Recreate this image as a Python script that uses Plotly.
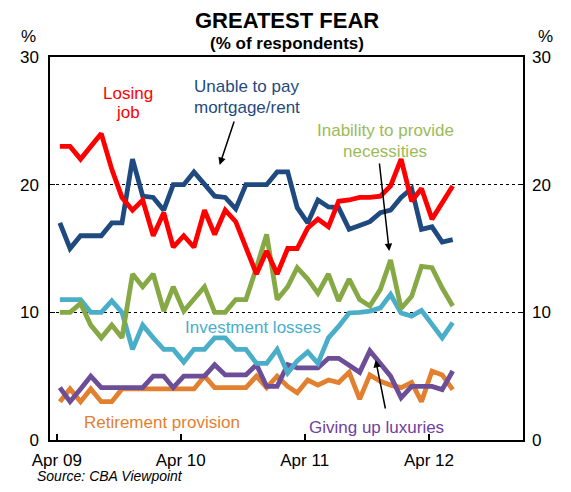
import plotly.graph_objects as go

# ---- data (monthly survey, Apr 2009 - Jun 2012) ----
months = [f"{2009 + (3 + i) // 12}-{(3 + i) % 12 + 1:02d}-10" for i in range(39)]

losing_job = [23.0, 23.0, 22.0, 23.0, 24.0, 21.2, 19.0, 18.0, 18.8, 16.0, 17.8, 15.1, 16.0,
              15.1, 18.0, 16.1, 18.0, 17.1, 15.1, 13.0, 14.8, 13.0, 15.0, 15.0, 16.6, 17.3,
              16.7, 18.7, 18.8, 19.0, 19.0, 19.1, 19.9, 22.0, 18.7, 19.7, 17.3, 18.6, 19.9]

mortgage_rent = [17.0, 15.0, 16.0, 16.0, 16.0, 17.0, 17.0, 22.0, 19.1, 19.0, 18.0, 20.0, 20.0,
                 21.0, 20.0, 19.1, 19.0, 18.1, 20.0, 20.0, 20.0, 21.0, 21.0, 18.2, 17.0, 18.8,
                 18.25, 18.2, 16.5, 16.8, 17.1, 17.8, 18.0, 19.0, 19.7, 16.5, 16.7, 15.5, 15.7]

necessities = [10.0, 10.0, 10.7, 9.0, 8.0, 9.0, 8.0, 13.0, 12.0, 13.0, 10.1, 12.0, 10.1,
               11.0, 12.0, 10.0, 10.0, 11.0, 11.0, 13.5, 16.1, 11.0, 12.0, 13.5, 12.6, 11.5,
               13.0, 10.9, 12.6, 11.0, 10.5, 11.8, 14.1, 10.3, 11.25, 13.6, 13.5, 11.9, 10.5]

investment = [11.0, 11.0, 11.0, 10.0, 10.0, 10.9, 10.0, 7.1, 9.0, 8.0, 7.1, 7.1, 6.1,
              7.1, 7.1, 8.0, 8.0, 7.1, 7.1, 6.0, 6.0, 7.1, 5.25, 6.2, 6.9, 6.0,
              8.0, 8.9, 9.95, 10.0, 10.1, 10.35, 11.4, 9.95, 9.7, 10.15, 9.0, 8.0, 9.2]

luxuries = [4.1, 3.0, 4.0, 5.0, 4.1, 4.1, 4.1, 4.1, 4.1, 5.0, 5.0, 4.1, 5.0,
            5.0, 5.0, 5.9, 5.1, 5.1, 5.1, 5.9, 4.2, 4.2, 5.9, 5.65, 5.65, 5.65,
            6.4, 6.4, 5.85, 5.3, 7.0, 6.0, 5.0, 3.3, 4.2, 4.2, 4.2, 3.95, 5.4]

retirement = [3.0, 4.0, 3.0, 4.0, 3.0, 3.0, 4.0, 4.0, 4.0, 4.0, 4.0, 4.0, 4.0,
              4.0, 5.0, 4.1, 4.1, 4.1, 4.1, 5.0, 4.1, 5.0, 4.2, 3.7, 4.7, 4.3,
              4.7, 4.5, 5.3, 3.2, 5.1, 4.6, 4.3, 4.1, 4.5, 3.0, 5.4, 5.1, 3.95]

tick_dates = ["2009-04-01", "2010-04-01", "2011-04-01", "2012-04-01"]
tick_text = ["Apr 09", "Apr 10", "Apr 11", "Apr 12"]
y_ticks = [0, 10, 20, 30]

# ---- styling ----
FONT = "Arial, Liberation Sans, sans-serif"
RED = "#FF0000"
NAVY = "#1F4A7F"
GREEN = "#86A845"
GREEN_TXT = "#9BBB59"
CYAN = "#4BAEC8"
PURPLE = "#6C4D97"
PURPLE_TXT = "#7040A0"
ORANGE = "#E3802F"

OFF = 8                      # page body margin
W, H = 555, 476              # figure size (fits in 571x492 window with margin)
L, T = 42 - OFF, 57 - OFF    # plot area left / top
R = W - (530 - OFF)
B = H - (440 - OFF)
PW, PH = W - L - R, H - T - B


def px(x):
    return (x - OFF - L) / PW


def py(y):
    return (H - B - (y - OFF)) / PH


fig = go.Figure()
series = [
    (retirement, ORANGE),
    (luxuries, PURPLE),
    (investment, CYAN),
    (necessities, GREEN),
    (mortgage_rent, NAVY),
    (losing_job, RED),
]
for vals, col in series:
    fig.add_trace(go.Scatter(x=months, y=vals, mode="lines",
                             line=dict(color=col, width=4.8),
                             showlegend=False, hoverinfo="skip"))
# invisible trace to anchor the right-hand axis
fig.add_trace(go.Scatter(x=months, y=losing_job, mode="lines", yaxis="y2",
                         line=dict(color="rgba(0,0,0,0)", width=0),
                         showlegend=False, hoverinfo="skip"))

axis_font = dict(family=FONT, size=17, color="black")
fig.update_layout(
    width=W, height=H,
    margin=dict(l=L, r=R, t=T, b=B),
    paper_bgcolor="white", plot_bgcolor="white",
    xaxis=dict(type="date", range=["2009-03-12", "2013-01-03"],
               tickvals=tick_dates, ticktext=tick_text, tickfont=axis_font,
               ticks="inside", ticklen=6, tickwidth=1.5, tickcolor="black",
               ticklabelstandoff=4,
               showgrid=False, showline=True, linecolor="black", linewidth=1.5,
               mirror=True, zeroline=False),
    yaxis=dict(range=[0, 30], tickvals=y_ticks, tickfont=axis_font,
               ticks="inside", ticklen=5, tickwidth=1, tickcolor="black",
               ticklabelstandoff=6,
               showgrid=True, gridcolor="black", gridwidth=1, griddash="dot",
               showline=True, linecolor="black", linewidth=1.5, mirror=True,
               zeroline=False),
    yaxis2=dict(range=[0, 30], tickvals=y_ticks, tickfont=axis_font,
                overlaying="y", side="right", ticks="inside", ticklen=5,
                tickwidth=1, tickcolor="black", ticklabelstandoff=8,
                showgrid=False, zeroline=False, showline=False),
)

ann = []


def text(x, y, s, col, size=17, xanchor="center"):
    ann.append(dict(x=px(x), y=py(y), xref="paper", yref="paper", text=s,
                    showarrow=False, font=dict(family=FONT, size=size, color=col),
                    xanchor=xanchor, yanchor="middle"))


text(286, 20, "<b>GREATEST FEAR</b>", "black", size=22)
text(286, 43, "<b>(% of respondents)</b>", "black", size=17)
text(20, 37, "%", "black", size=17)
text(553, 37, "%", "black", size=17)
text(122, 93, "Losing", RED)
text(122, 113, "job", RED)
text(245, 87, "Unable to pay", NAVY)
text(245, 107, "mortgage/rent", NAVY)
text(388, 131, "Inability to provide", GREEN_TXT)
text(388, 151, "necessities", GREEN_TXT)
text(251, 327, "Investment losses", CYAN)
text(158, 422, "Retirement provision", ORANGE)
text(379, 427, "Giving up luxuries", PURPLE_TXT)
text(27, 476, "<i>Source: CBA Viewpoint</i>", "black", size=14, xanchor="left")


def arrow(x0, y0, x1, y1):
    ann.append(dict(x=px(x1), y=py(y1), xref="paper", yref="paper",
                    ax=x0 - x1, ay=y0 - y1, axref="pixel", ayref="pixel",
                    text="", showarrow=True, arrowhead=2, arrowsize=1,
                    arrowwidth=1.5, arrowcolor="black"))


arrow(232, 120, 217, 165)
arrow(382, 162, 392, 251)
arrow(388, 410, 378, 360)

fig.update_layout(annotations=ann)
fig.write_html("out.html")
